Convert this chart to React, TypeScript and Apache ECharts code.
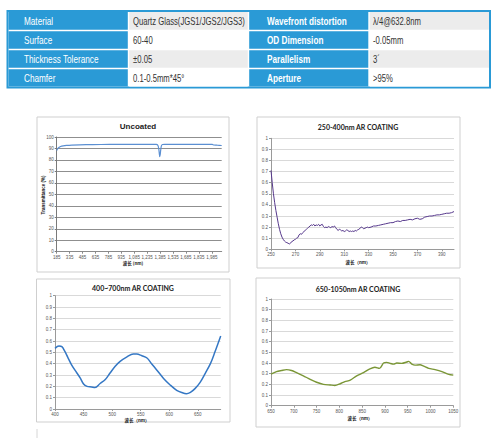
import { useEffect, useRef } from "react";
import * as echarts from "echarts";

// Specification table
const specLabelsLeft = ["Material", "Surface", "Thickness Tolerance", "Chamfer"];
const specValuesLeft = ["Quartz Glass(JGS1/JGS2/JGS3)", "60-40", "±0.05", "0.1-0.5mm*45°"];
const specLabelsRight = ["Wavefront distortion", "OD Dimension", "Parallelism", "Aperture"];
const specValuesRight = ["λ/4@632.8nm", "-0.05mm", "3´", ">95%"];

// Uncoated: transmittance (%) against wavelength (nm)
const uncoatedTitle = "Uncoated";
const uncoatedWavelength = [185, 195, 210, 230, 260, 300, 360, 450, 600, 800, 1000, 1200, 1340, 1360, 1370, 1376, 1381, 1386, 1392, 1400, 1412, 1440, 1600, 1800, 1950, 1990, 2010, 2040, 2070, 2100];
const uncoatedTransmittance = [88.2, 89.6, 90.8, 91.7, 92.3, 92.7, 93.0, 93.2, 93.4, 93.5, 93.6, 93.6, 93.5, 92.6, 89.5, 85.5, 82.8, 84.5, 88.5, 92.2, 93.4, 93.6, 93.6, 93.6, 93.6, 93.5, 93.0, 92.9, 92.7, 92.6];
const uncoatedTickLabels = ["185", "335", "485", "635", "785", "935", "1,085", "1,235", "1,385", "1,535", "1,685", "1,835", "1,985"];

// 250-400nm AR coating: reflectance ratio against wavelength (nm)
const uvTitle = "250-400nm AR COATING";
const uvWavelength = [250, 251, 252, 253, 254, 255, 256, 257, 258, 259, 260, 261, 262, 263, 264, 265, 266, 267, 268, 269, 270, 271, 272, 273, 274, 275, 276, 277, 278, 279, 280, 281, 282, 283, 284, 285, 286, 287, 288, 289, 290, 291, 292, 293, 294, 295, 296, 297, 298, 299, 300, 301, 302, 303, 304, 305, 306, 307, 308, 309, 310, 311, 312, 313, 314, 315, 316, 317, 318, 319, 320, 321, 322, 323, 324, 325, 326, 327, 328, 329, 330, 332, 334, 336, 338, 340, 342, 344, 346, 348, 350, 352, 354, 356, 358, 360, 362, 364, 366, 368, 370, 372, 374, 376, 378, 380, 382, 384, 386, 388, 390, 392, 394, 396, 398, 400];
const uvValue = [0.71, 0.6, 0.5, 0.42, 0.35, 0.29, 0.23, 0.18, 0.14, 0.11, 0.09, 0.075, 0.065, 0.06, 0.055, 0.048, 0.055, 0.07, 0.075, 0.085, 0.09, 0.1, 0.105, 0.13, 0.14, 0.135, 0.15, 0.16, 0.17, 0.18, 0.19, 0.2, 0.21, 0.22, 0.215, 0.225, 0.21, 0.22, 0.215, 0.225, 0.21, 0.22, 0.225, 0.205, 0.195, 0.2, 0.195, 0.205, 0.2, 0.195, 0.205, 0.2, 0.21, 0.195, 0.18, 0.17, 0.18, 0.175, 0.165, 0.17, 0.16, 0.165, 0.175, 0.17, 0.16, 0.165, 0.16, 0.165, 0.16, 0.17, 0.165, 0.175, 0.18, 0.19, 0.2, 0.195, 0.185, 0.19, 0.195, 0.2, 0.195, 0.2, 0.21, 0.21, 0.215, 0.22, 0.225, 0.23, 0.235, 0.24, 0.24, 0.25, 0.255, 0.25, 0.26, 0.26, 0.265, 0.27, 0.265, 0.275, 0.28, 0.27, 0.275, 0.29, 0.295, 0.3, 0.3, 0.305, 0.31, 0.31, 0.315, 0.32, 0.325, 0.325, 0.33, 0.34];
const uvTickLabels = ["250", "270", "290", "310", "330", "350", "370", "390"];

// 400~700nm AR coating
const visTitle = "400~700nm AR COATING";
const visWavelength = [400, 407, 412, 417, 422, 429, 438, 444, 450, 456, 464, 470, 479, 488, 496, 505, 514, 526, 537, 543, 552, 561, 569, 578, 590, 602, 613, 622, 630, 637, 645, 654, 663, 672, 680, 690];
const visValue = [0.535, 0.555, 0.55, 0.51, 0.46, 0.39, 0.32, 0.275, 0.22, 0.2, 0.195, 0.19, 0.225, 0.26, 0.315, 0.375, 0.42, 0.46, 0.485, 0.485, 0.47, 0.45, 0.4, 0.345, 0.27, 0.21, 0.165, 0.145, 0.135, 0.147, 0.18, 0.235, 0.315, 0.4, 0.505, 0.645];

// 650-1050nm AR coating
const nirTitle = "650-1050nm AR COATING";
const nirWavelength = [650, 662, 673, 684, 695, 706, 721, 736, 750, 765, 780, 790, 802, 812, 824, 838, 853, 867, 878, 888, 897, 904, 911, 919, 926, 937, 948, 952, 959, 966, 977, 985, 996, 1010, 1025, 1040, 1050];
const nirValue = [0.297, 0.32, 0.33, 0.338, 0.33, 0.31, 0.28, 0.247, 0.22, 0.2, 0.194, 0.19, 0.206, 0.225, 0.24, 0.28, 0.31, 0.345, 0.36, 0.35, 0.4, 0.406, 0.397, 0.39, 0.4, 0.397, 0.41, 0.415, 0.39, 0.38, 0.384, 0.37, 0.35, 0.338, 0.32, 0.294, 0.287];

const axisNameCn = "波长 (nm)";
const axisNameCnWide = "波长（nm）";
const yNameUncoated = "Transmittance (%)";

const BLUE = "#2a9ad6";
const LABEL_FONT = "Liberation Sans";

const pairs = (xs: number[], ys: number[], offset = 0) => xs.map((x, i) => [x - offset, ys[i]]);

function buildTable(): any[] {
  const rowY = [11, 30.5, 49.5, 68.5, 87.5];
  const colX = [7.5, 128.5, 248.5, 369, 490];
  const cells: any[] = [
    {
      type: "rect",
      shape: { x: colX[0], y: rowY[0], width: colX[4] - colX[0], height: rowY[4] - rowY[0] },
      style: { fill: "#fff", stroke: BLUE, lineWidth: 2 },
    },
  ];
  const texts: any[] = [];
  const columns = [specLabelsLeft, specValuesLeft, specLabelsRight, specValuesRight];
  for (let r = 0; r < 4; r++) {
    for (let c = 0; c < 4; c++) {
      const x0 = colX[c] + (c === 0 ? 1 : 0.7);
      const x1 = colX[c + 1] - (c === 3 ? 1 : 0.7);
      const y0 = rowY[r] + (r === 0 ? 1 : 0.7);
      const y1 = rowY[r + 1] - (r === 3 ? 1 : 0.7);
      const isLabel = c % 2 === 0;
      cells.push({
        type: "rect",
        shape: { x: x0, y: y0, width: x1 - x0, height: y1 - y0 },
        style: { fill: isLabel ? BLUE : r % 2 === 0 ? "#ececec" : "#ffffff" },
      });
      const cy = (rowY[r] + rowY[r + 1]) / 2 + 1;
      const tx = c === 0 ? 24 : c === 1 ? 133 : c === 2 ? 267 : 373;
      texts.push({
        type: "text",
        x: tx,
        y: cy,
        scaleX: isLabel ? 0.82 : 0.77,
        style: {
          text: columns[c][r],
          fontFamily: LABEL_FONT,
          fontSize: 10,
          fontWeight: c === 2 ? "bold" : "normal",
          fill: isLabel ? "#ffffff" : "#333333",
          verticalAlign: "middle",
          align: "left",
        },
      });
    }
  }
  return [...cells, ...texts];
}

function box(x: number, y: number, w: number, h: number): any {
  return {
    type: "rect",
    z: -1,
    shape: { x, y, width: w, height: h },
    style: { fill: "none", stroke: "#cfcfcf", lineWidth: 1 },
  };
}

function label(text: string, x: number, y: number, size: number, extra: any = {}): any {
  return {
    type: "text",
    x,
    y,
    ...extra,
    style: {
      text,
      fontFamily: extra.fontFamily || "Lato",
      fontSize: size,
      fontWeight: "bold",
      fill: "#222",
      align: "center",
      verticalAlign: "middle",
    },
  };
}

export default function App() {
  const ref = useRef<HTMLDivElement>(null);

  useEffect(() => {
    if (!ref.current) return;
    const chart = echarts.init(ref.current, undefined, { renderer: "svg" });

    const grids = [
      { left: 56.7, top: 137, width: 165, height: 114.7 },
      { left: 271, top: 138.3, width: 183, height: 111 },
      { left: 55, top: 295.7, width: 165.7, height: 113.3 },
      { left: 271, top: 299, width: 182.3, height: 106.7 },
    ];

    const axisText = { fontSize: 4.5, color: "#555", fontFamily: LABEL_FONT };
    const plain = (v: number) => String(v);

    const xBase = (i: number, lineColor: string) => ({
      type: "value" as const,
      gridIndex: i,
      axisLine: { show: true, lineStyle: { color: lineColor, width: 1 } },
      axisTick: { show: true, length: 2, lineStyle: { color: lineColor } },
      splitLine: { show: false },
    });
    const yBase = (i: number, lineColor: string, splitColor: string) => ({
      type: "value" as const,
      gridIndex: i,
      min: 0,
      axisLine: { show: true, lineStyle: { color: lineColor, width: 1 } },
      axisTick: { show: true, length: 2, lineStyle: { color: lineColor } },
      splitLine: { show: true, lineStyle: { color: splitColor, width: 1 } },
      axisLabel: { ...axisText, margin: 3 },
    });

    const uncoatedStart = 185;
    const uvStart = 250;

    const option: any = {
      animation: false,
      backgroundColor: "#ffffff",
      grid: grids,
      xAxis: [
        {
          ...xBase(0, "#8a8a8a"),
          min: 0,
          max: 2100 - uncoatedStart,
          interval: 150,
          axisLabel: {
            ...axisText,
            margin: 3,
            showMaxLabel: false,
            formatter: (v: number) => uncoatedTickLabels[Math.round(v / 150)] ?? "",
          },
        },
        {
          ...xBase(1, "#9a9a9a"),
          min: 0,
          max: 400 - uvStart,
          interval: 20,
          axisLabel: {
            ...axisText,
            margin: 3,
            showMaxLabel: false,
            formatter: (v: number) => uvTickLabels[Math.round(v / 20)] ?? "",
          },
        },
        {
          ...xBase(2, "#9a9a9a"),
          min: 400,
          max: 690,
          interval: 50,
          axisLabel: { ...axisText, margin: 2.5, showMaxLabel: false, formatter: plain },
        },
        {
          ...xBase(3, "#9a9a9a"),
          min: 650,
          max: 1050,
          interval: 50,
          axisLabel: { ...axisText, margin: 3, formatter: plain },
        },
      ],
      yAxis: [
        { ...yBase(0, "#7a7a7a", "#8f8f8f"), max: 100, interval: 10 },
        { ...yBase(1, "#9a9a9a", "#d9d9d9"), max: 1, interval: 0.1 },
        { ...yBase(2, "#9a9a9a", "#d9d9d9"), max: 1, interval: 0.1 },
        { ...yBase(3, "#9a9a9a", "#d9d9d9"), max: 1, interval: 0.1 },
      ],
      series: [
        {
          type: "line",
          xAxisIndex: 0,
          yAxisIndex: 0,
          data: pairs(uncoatedWavelength, uncoatedTransmittance, uncoatedStart),
          showSymbol: false,
          smooth: 0.25,
          lineStyle: { color: "#5b8fd2", width: 1.2 },
        },
        {
          type: "line",
          xAxisIndex: 1,
          yAxisIndex: 1,
          data: pairs(uvWavelength, uvValue, uvStart),
          showSymbol: false,
          lineStyle: { color: "#56388c", width: 1 },
        },
        {
          type: "line",
          xAxisIndex: 2,
          yAxisIndex: 2,
          data: pairs(visWavelength, visValue),
          showSymbol: false,
          smooth: 0.35,
          lineStyle: { color: "#3477c4", width: 1.5 },
        },
        {
          type: "line",
          xAxisIndex: 3,
          yAxisIndex: 3,
          data: pairs(nirWavelength, nirValue),
          showSymbol: false,
          smooth: 0.3,
          lineStyle: { color: "#7a9636", width: 1.4 },
        },
      ],
      graphic: [
        ...buildTable(),
        box(37, 117, 192, 155),
        box(257, 117, 203, 151),
        box(36.5, 279, 193.5, 143),
        box(256, 278, 204, 149),
        {
          type: "line",
          shape: { x1: 37, y1: 429, x2: 37, y2: 438 },
          style: { stroke: "#d6d6d6", lineWidth: 1 },
        },
        label(uncoatedTitle, 138, 126, 8, { fontFamily: LABEL_FONT }),
        label(uvTitle, 358, 127, 7),
        label(visTitle, 133, 287.5, 7),
        label(nirTitle, 358, 288.5, 7),
        label(axisNameCn, 133, 263, 4.5, { fontFamily: "Noto Sans CJK SC" }),
        label(axisNameCnWide, 358, 261.7, 4.5, { fontFamily: "Noto Sans CJK SC" }),
        label(axisNameCnWide, 137, 419.8, 4.5, { fontFamily: "Noto Sans CJK SC" }),
        label(axisNameCnWide, 360, 417.7, 4.5, { fontFamily: "Noto Sans CJK SC" }),
        label(yNameUncoated, 43.3, 195, 4.5, { fontFamily: LABEL_FONT, rotation: Math.PI / 2 }),
      ],
    };

    chart.setOption(option);
    return () => chart.dispose();
  }, []);

  return (
    <div
      ref={ref}
      style={{ position: "fixed", left: 0, top: 0, width: 500, height: 438, background: "#fff" }}
    />
  );
}
